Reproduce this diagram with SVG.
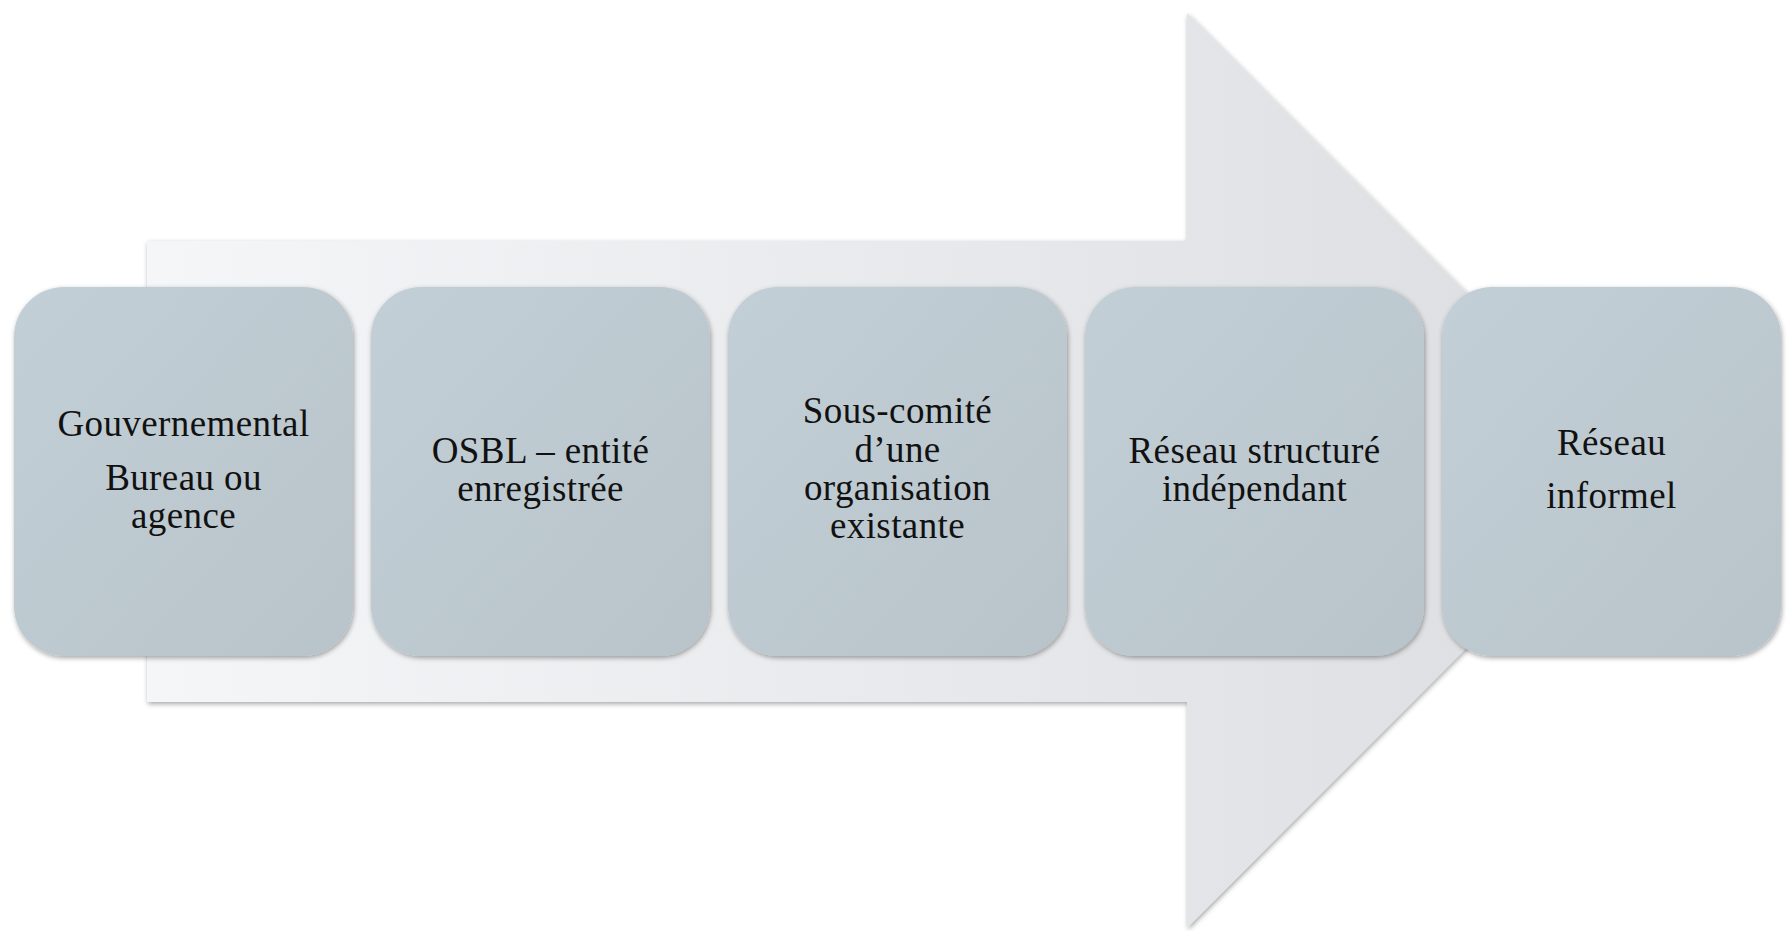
<svg xmlns="http://www.w3.org/2000/svg" width="1791" height="931" viewBox="0 0 1791 931">
<defs>
<linearGradient id="arrowGrad" x1="0" y1="0" x2="1" y2="0">
<stop offset="0" stop-color="#f5f6f8"/>
<stop offset="1" stop-color="#dcdde0"/>
</linearGradient>
<linearGradient id="boxGrad" x1="0" y1="0" x2="1" y2="1">
<stop offset="0" stop-color="#c3cfd6"/>
<stop offset="1" stop-color="#b8c3ca"/>
</linearGradient>
<filter id="shadow" x="-10%" y="-10%" width="120%" height="120%">
<feDropShadow dx="1" dy="2" stdDeviation="2.5" flood-color="#000" flood-opacity="0.35"/>
</filter>
</defs>
<style>
.box{fill:url(#boxGrad);filter:url(#shadow);}
.lbl{font-family:"Liberation Serif","DejaVu Serif",serif;font-size:37px;letter-spacing:0.4px;fill:#111;text-anchor:middle;}
</style>
<rect width="1791" height="931" fill="#ffffff"/>
<g id="connectors">
<path id="arrow" d="M147 241 L1187 241 L1187 13 L1644 470 L1187 928 L1187 702 L147 702 Z" fill="url(#arrowGrad)" filter="url(#shadow)"/>
</g>
<g id="node1">
<rect class="box" x="14" y="287" width="339" height="369" rx="50"/>
<text class="lbl" x="183.5" y="436">Gouvernemental</text>
<text class="lbl" x="183.5" y="490">Bureau ou</text>
<text class="lbl" x="183.5" y="528">agence</text>
</g>
<g id="node2">
<rect class="box" x="371" y="287" width="339" height="369" rx="50"/>
<text class="lbl" x="540.5" y="463">OSBL – entité</text>
<text class="lbl" x="540.5" y="501">enregistrée</text>
</g>
<g id="node3">
<rect class="box" x="728" y="287" width="339" height="369" rx="50"/>
<text class="lbl" x="897.5" y="423">Sous-comité</text>
<text class="lbl" x="897.5" y="462">d’une</text>
<text class="lbl" x="897.5" y="500">organisation</text>
<text class="lbl" x="897.5" y="538">existante</text>
</g>
<g id="node4">
<rect class="box" x="1085" y="287" width="339" height="369" rx="50"/>
<text class="lbl" x="1254.5" y="463">Réseau structuré</text>
<text class="lbl" x="1254.5" y="501">indépendant</text>
</g>
<g id="node5">
<rect class="box" x="1442" y="287" width="339" height="369" rx="50"/>
<text class="lbl" x="1611.5" y="455">Réseau</text>
<text class="lbl" x="1611.5" y="508">informel</text>
</g>
</svg>
